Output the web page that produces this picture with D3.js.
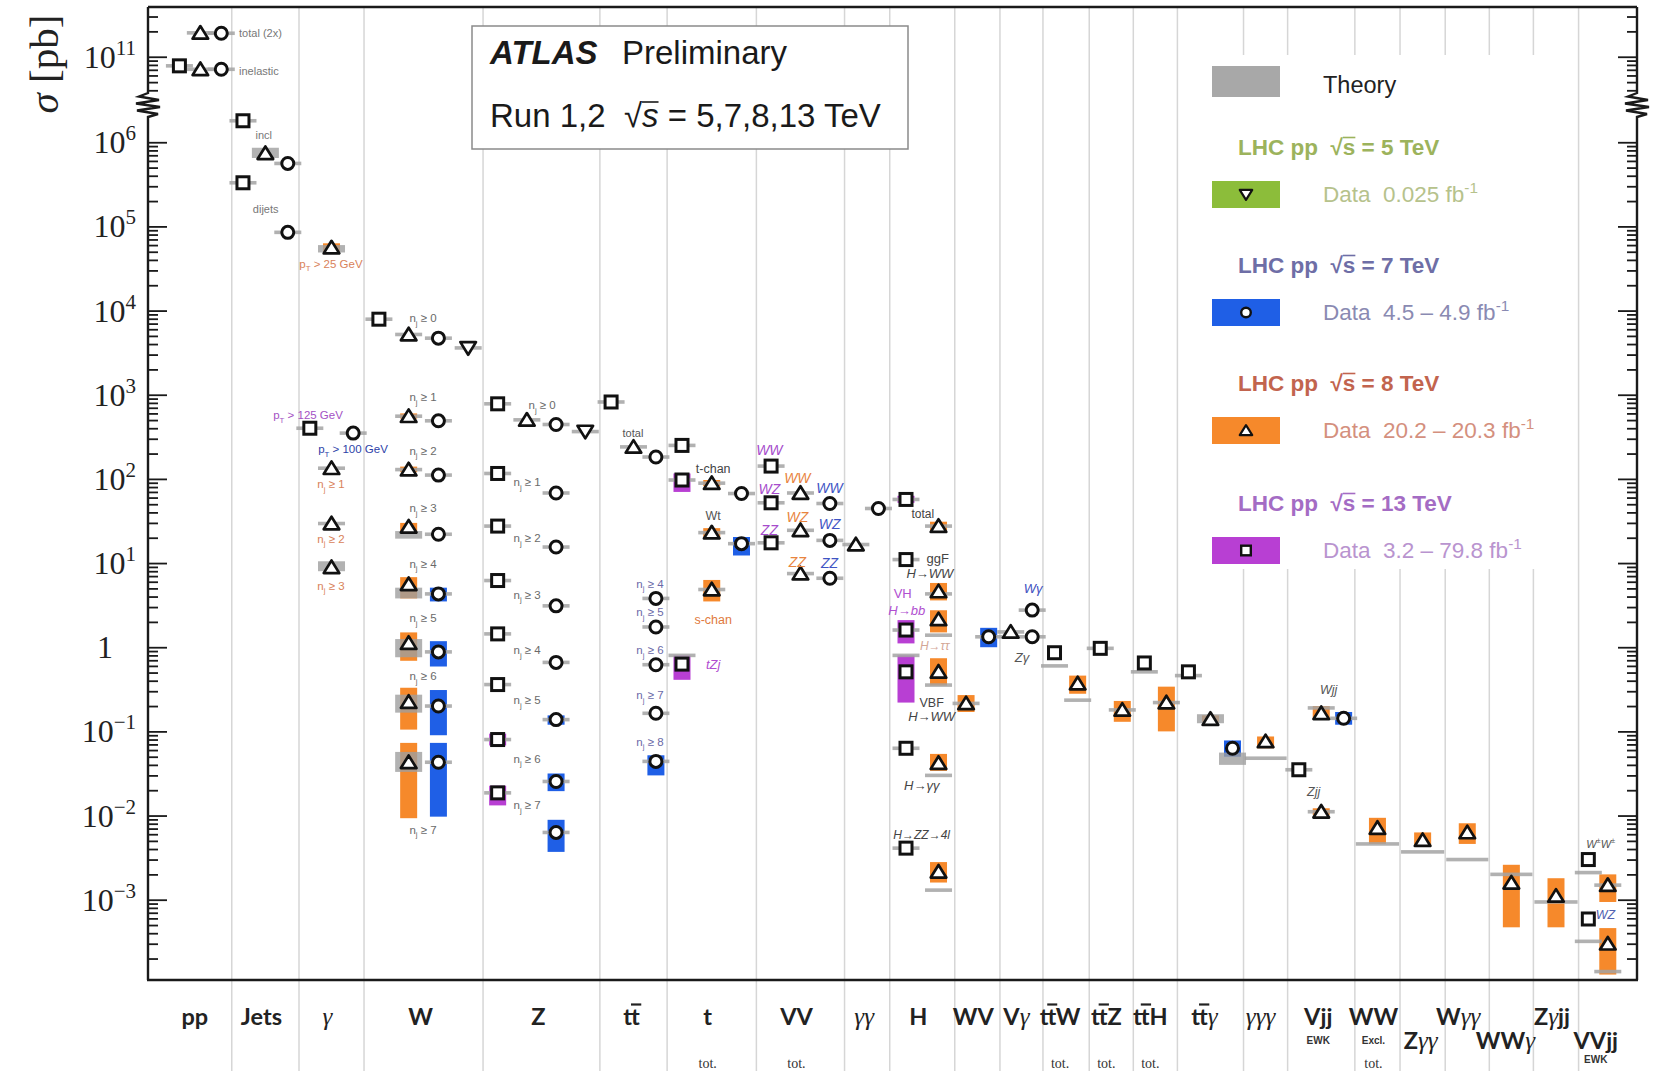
<!DOCTYPE html>
<html>
<head>
<meta charset="utf-8">
<script src="https://cdn.jsdelivr.net/npm/d3@7"></script>
<style>
  body { margin: 0; background: #fff; }
  svg { display: block; }
  text { white-space: pre; }
</style>
</head>
<body>
<svg id="chart" width="1656" height="1071"></svg>
<script>
// ---------------------------------------------------------------------------
// Category columns of the cross-section summary
// ---------------------------------------------------------------------------
const catKeys   = ['pp','jets','gam','W','Z','tt','t','VV','gg','H','WV','Vg','ttW','ttZ','ttH','ttg','ggg','Vjj','WW','Zgg','Wgg','WWg','Zgjj','VVjj'];
const catLabels = ['pp','Jets','γ','W','Z','tt','t','VV','γγ','H','WV','Vγ','ttW','ttZ','ttH','ttγ','γγγ','Vjj','WW','Zγγ','Wγγ','WWγ','Zγjj','VVjj'];
// index of the character carrying an antiparticle bar (-1: none)
const catBarChar = [-1,-1,-1,-1,-1,1,-1,-1,-1,-1,-1,-1,1,1,1,1,-1,-1,-1,-1,-1,-1,-1,-1];
const catLabelRow = [0,0,0,0,0,0,0,0,0,0,0,0,0,0,0,0,0,0,0,1,0,1,0,1];
// column widths along the category axis, and number of sub-columns per column
const catSpan  = [3.8,3.05,2.95,5.4,5.3,3.05,4.05,4.0,2.05,2.95,2.05,1.95,2.1,2.0,2.0,3.0,2.0,3.05,2.05,2.05,2.0,2.0,2.05,2.65];
const catSlots = [4,3,3,4,4,3,3,3,2,2,2,2,2,2,2,3,1,3,1,1,1,1,1,3];
// horizontal nudge of each column label (px)
const catLabelNudge = [5,-4,-4,-3,-3,-2,-4,-4,-3,-4,-4,-5,-6,-5,-5,-6,-5,-3,-4,-2,-9,-6,-4,-12];
const catNotes = [
  {c:'t',    t:'tot.',  r:2, kind:'tot'},
  {c:'VV',   t:'tot.',  r:2, kind:'tot'},
  {c:'ttW',  t:'tot.',  r:2, kind:'tot'},
  {c:'ttZ',  t:'tot.',  r:2, kind:'tot'},
  {c:'ttH',  t:'tot.',  r:2, kind:'tot'},
  {c:'Vjj',  t:'EWK',   r:1, kind:'small'},
  {c:'WW',   t:'Excl.', r:1, kind:'small'},
  {c:'WW',   t:'tot.',  r:2, kind:'tot'},
  {c:'VVjj', t:'EWK',   r:2, kind:'small'}
];

// y axis decade labels (exponents)
const tickExps = [11, 6, 5, 4, 3, 2, 1, 0, -1, -2, -3];

// ---------------------------------------------------------------------------
// Measurements, σ in pb.  s = sub-column, lo/hi = data band, th/thLo/thHi = theory
// ---------------------------------------------------------------------------
const run13 = [   // √s = 13 TeV (squares)
  {c:'pp', s:1, v:7.8e10},
  {c:'jets', s:0, v:1.8e6}, {c:'jets', s:0, v:3.3e5},
  {c:'gam', s:0, v:400},
  {c:'W', s:0, v:7.9e3},
  {c:'Z', s:0, v:780}, {c:'Z', s:0, v:116}, {c:'Z', s:0, v:27.5}, {c:'Z', s:0, v:6.2},
  {c:'Z', s:0, v:1.44}, {c:'Z', s:0, v:0.36},
  {c:'Z', s:0, v:0.080, lo:0.068, hi:0.094}, {c:'Z', s:0, v:0.0186, lo:0.0132, hi:0.0226},
  {c:'tt', s:0, v:820},
  {c:'t', s:0, v:250}, {c:'t', s:0, v:97, lo:70, hi:116}, {c:'t', s:0, v:0.63, lo:0.41, hi:0.80, th:0.80},
  {c:'VV', s:0, v:142}, {c:'VV', s:0, v:52}, {c:'VV', s:0, v:17.4},
  {c:'H', s:0, v:57, lo:52, hi:63}, {c:'H', s:0, v:11},
  {c:'H', s:0, v:1.6, lo:1.11, hi:2.1}, {c:'H', s:0, v:0.51, lo:0.22, hi:0.80, th:0.80},
  {c:'H', s:0, v:0.063}, {c:'H', s:0, v:0.0041},
  {c:'ttW', s:0, v:0.86, th:0.60},
  {c:'ttZ', s:0, v:0.97},
  {c:'ttH', s:0, v:0.65, th:0.51},
  {c:'ttg', s:0, v:0.51, th:0.46},
  {c:'Vjj', s:0, v:0.035},
  {c:'VVjj', s:0, v:0.0030, th:0.0021}, {c:'VVjj', s:0, v:0.00059, th:0.00032}
];

const run8 = [    // √s = 8 TeV (triangles)
  {c:'pp', s:2, v:7.1e10}, {c:'pp', s:2, v:1.92e11},
  {c:'jets', s:1, v:7.4e5, thLo:6.5e5, thHi:8.6e5},
  {c:'gam', s:1, v:5.6e4, lo:5.0e4, hi:6.3e4, thLo:4.9e4, thHi:6.0e4},
  {c:'gam', s:1, v:134}, {c:'gam', s:1, v:29.5}, {c:'gam', s:1, v:8.9, thLo:8.0, thHi:10.5},
  {c:'W', s:1, v:5.2e3}, {c:'W', s:1, v:556, lo:520, hi:600}, {c:'W', s:1, v:129, lo:120, hi:140},
  {c:'W', s:1, v:27, lo:24, hi:30, thLo:19.5, thHi:24},
  {c:'W', s:1, v:5.6, lo:3.8, hi:6.8, thLo:3.8, thHi:5.1},
  {c:'W', s:1, v:1.12, lo:0.69, hi:1.5, thLo:0.76, thHi:1.25},
  {c:'W', s:1, v:0.223, lo:0.105, hi:0.33, thLo:0.167, thHi:0.273},
  {c:'W', s:1, v:0.043, lo:0.0093, hi:0.073, thLo:0.033, thHi:0.057},
  {c:'Z', s:1, v:503},
  {c:'tt', s:1, v:240},
  {c:'t', s:1, v:89, lo:82, hi:97}, {c:'t', s:1, v:23, lo:20.5, hi:26}, {c:'t', s:1, v:4.85, lo:3.5, hi:6.3},
  {c:'VV', s:1, v:68}, {c:'VV', s:1, v:24.5}, {c:'VV', s:1, v:7.5},
  {c:'gg', s:0, v:16.6},
  {c:'H', s:1, v:27.5, lo:23.5, hi:31},
  {c:'H', s:1, v:4.6, lo:3.6, hi:5.8, th:4.3},
  {c:'H', s:1, v:2.14, lo:1.5, hi:2.75, th:1.39},
  {c:'H', s:1, v:0.51, lo:0.35, hi:0.74, th:0.355},
  {c:'H', s:1, v:0.042, lo:0.034, hi:0.054, th:0.030},
  {c:'H', s:1, v:0.00215, lo:0.0016, hi:0.0028, th:0.0013},
  {c:'WV', s:0, v:0.215, lo:0.17, hi:0.27},
  {c:'Vg', s:0, v:1.52},
  {c:'ttW', s:1, v:0.37, lo:0.28, hi:0.46, th:0.235},
  {c:'ttZ', s:1, v:0.18, lo:0.13, hi:0.23},
  {c:'ttH', s:1, v:0.22, lo:0.10, hi:0.34},
  {c:'ttg', s:1, v:0.14, lo:0.13, hi:0.155, thLo:0.125, thHi:0.16},
  {c:'ggg', s:0, v:0.076, lo:0.063, hi:0.087, th:0.048},
  {c:'Vjj', s:1, v:0.164, lo:0.14, hi:0.20, th:0.19}, {c:'Vjj', s:1, v:0.0111, lo:0.0102, hi:0.0122},
  {c:'WW', s:0, v:0.0071, lo:0.0046, hi:0.0094, th:0.0046},
  {c:'Zgg', s:0, v:0.0051, lo:0.0044, hi:0.0063, th:0.0037},
  {c:'Wgg', s:0, v:0.0063, lo:0.0046, hi:0.0081, th:0.0030},
  {c:'WWg', s:0, v:0.00159, lo:0.00047, hi:0.0026, th:0.0020},
  {c:'Zgjj', s:0, v:0.00111, lo:0.00047, hi:0.0018, th:0.00094},
  {c:'VVjj', s:1, v:0.00149, lo:0.00094, hi:0.0020},
  {c:'VVjj', s:1, v:0.00030, lo:0.000129, hi:0.00046, th:0.00014}
];

const run7 = [    // √s = 7 TeV (circles)
  {c:'pp', s:3, v:7.1e10}, {c:'pp', s:3, v:1.9e11},
  {c:'jets', s:2, v:5.6e5}, {c:'jets', s:2, v:8.5e4},
  {c:'gam', s:2, v:350},
  {c:'W', s:2, v:4.7e3}, {c:'W', s:2, v:490}, {c:'W', s:2, v:111}, {c:'W', s:2, v:22},
  {c:'W', s:2, v:4.3, lo:3.5, hi:5.1}, {c:'W', s:2, v:0.88, lo:0.59, hi:1.18},
  {c:'W', s:2, v:0.20, lo:0.09, hi:0.31}, {c:'W', s:2, v:0.043, lo:0.0097, hi:0.073},
  {c:'Z', s:2, v:443}, {c:'Z', s:2, v:68}, {c:'Z', s:2, v:15.5}, {c:'Z', s:2, v:3.1},
  {c:'Z', s:2, v:0.66}, {c:'Z', s:2, v:0.138, lo:0.12, hi:0.155},
  {c:'Z', s:2, v:0.0254, lo:0.0195, hi:0.0316}, {c:'Z', s:2, v:0.0063, lo:0.0037, hi:0.0089},
  {c:'tt', s:2, v:182}, {c:'tt', s:2, v:3.8}, {c:'tt', s:2, v:1.74}, {c:'tt', s:2, v:0.62},
  {c:'tt', s:2, v:0.164}, {c:'tt', s:2, v:0.044, lo:0.030, hi:0.052},
  {c:'t', s:2, v:67}, {c:'t', s:2, v:17, lo:12.3, hi:20.4},
  {c:'VV', s:2, v:51}, {c:'VV', s:2, v:18.6}, {c:'VV', s:2, v:6.6},
  {c:'gg', s:1, v:44.5},
  {c:'WV', s:1, v:1.33, lo:1.0, hi:1.7},
  {c:'Vg', s:1, v:2.76}, {c:'Vg', s:1, v:1.33},
  {c:'ttg', s:2, v:0.063, lo:0.050, hi:0.078, thLo:0.040, thHi:0.056},
  {c:'Vjj', s:2, v:0.143, lo:0.12, hi:0.17}
];

const run5 = [    // √s = 5 TeV (inverted triangles)
  {c:'W', s:3, v:3.6e3},
  {c:'Z', s:3, v:365}
];

// Process annotations: text, column, position inside the column, σ level
const notes = [
  {t:'total (2x)', c:'pp', at:4.13, v:1.9e11, col:'#777', fs:11, a:'start'},
  {t:'inelastic',  c:'pp', at:4.13, v:6.8e10, col:'#777', fs:11, a:'start'},
  {t:'incl',   c:'jets', at:1.45, v:1.2e6, col:'#777', fs:11},
  {t:'dijets', c:'jets', at:1.54, v:1.6e5, col:'#777', fs:11},
  {t:'p_T > 25 GeV',  c:'gam', at:1.45, v:3.6e4, col:'#d9825a', fs:11.5},
  {t:'p_T > 125 GeV', c:'gam', at:0.41, v:570,   col:'#a451c4', fs:11.5},
  {t:'p_T > 100 GeV', c:'gam', at:2.45, v:225,   col:'#2d3fa8', fs:11.5},
  {t:'n_j ≥ 1', c:'gam', at:1.45, v:86,  col:'#d9825a', fs:11.5},
  {t:'n_j ≥ 2', c:'gam', at:1.45, v:19.5, col:'#d9825a', fs:11.5},
  {t:'n_j ≥ 3', c:'gam', at:1.45, v:5.4, col:'#d9825a', fs:11.5},
  {t:'n_j ≥ 0', c:'W', at:2.68, v:8.1e3, col:'#6a6a6a', fs:11.5},
  {t:'n_j ≥ 1', c:'W', at:2.68, v:935,   col:'#6a6a6a', fs:11.5},
  {t:'n_j ≥ 2', c:'W', at:2.68, v:215,   col:'#6a6a6a', fs:11.5},
  {t:'n_j ≥ 3', c:'W', at:2.68, v:45,    col:'#6a6a6a', fs:11.5},
  {t:'n_j ≥ 4', c:'W', at:2.68, v:9.8,   col:'#6a6a6a', fs:11.5},
  {t:'n_j ≥ 5', c:'W', at:2.68, v:2.2,   col:'#6a6a6a', fs:11.5},
  {t:'n_j ≥ 6', c:'W', at:2.68, v:0.45,  col:'#6a6a6a', fs:11.5},
  {t:'n_j ≥ 7', c:'W', at:2.68, v:0.0068, col:'#6a6a6a', fs:11.5},
  {t:'n_j ≥ 0', c:'Z', at:2.68, v:750,   col:'#6a6a6a', fs:11.5},
  {t:'n_j ≥ 1', c:'Z', at:2.0, v:91,     col:'#6a6a6a', fs:11.5},
  {t:'n_j ≥ 2', c:'Z', at:2.0, v:19.6,   col:'#6a6a6a', fs:11.5},
  {t:'n_j ≥ 3', c:'Z', at:2.0, v:4.2,    col:'#6a6a6a', fs:11.5},
  {t:'n_j ≥ 4', c:'Z', at:2.0, v:0.92,   col:'#6a6a6a', fs:11.5},
  {t:'n_j ≥ 5', c:'Z', at:2.0, v:0.234,  col:'#6a6a6a', fs:11.5},
  {t:'n_j ≥ 6', c:'Z', at:2.0, v:0.047,  col:'#6a6a6a', fs:11.5},
  {t:'n_j ≥ 7', c:'Z', at:2.0, v:0.0132, col:'#6a6a6a', fs:11.5},
  {t:'total', c:'tt', at:1.5, v:350, col:'#555', fs:11},
  {t:'n_j ≥ 4', c:'tt', at:2.27, v:5.7,   col:'#6a6aa8', fs:11.5},
  {t:'n_j ≥ 5', c:'tt', at:2.27, v:2.6,   col:'#6a6aa8', fs:11.5},
  {t:'n_j ≥ 6', c:'tt', at:2.27, v:0.92,  col:'#6a6aa8', fs:11.5},
  {t:'n_j ≥ 7', c:'tt', at:2.27, v:0.27,  col:'#6a6aa8', fs:11.5},
  {t:'n_j ≥ 8', c:'tt', at:2.27, v:0.075, col:'#6a6aa8', fs:11.5},
  {t:'t-chan', c:'t', at:2.09, v:134,  col:'#444', fs:12.5},
  {t:'Wt',     c:'t', at:2.09, v:37,   col:'#555', fs:12.5},
  {t:'s-chan', c:'t', at:2.09, v:2.14, col:'#e07a40', fs:12.5},
  {t:'tZj',    c:'t', at:2.09, v:0.62, col:'#b04cd0', fs:13, it:true},
  {t:'WW', c:'VV', at:0.59, v:218,  col:'#a64ccc', fs:14, it:true},
  {t:'WZ', c:'VV', at:0.59, v:75.5, col:'#a64ccc', fs:14, it:true},
  {t:'ZZ', c:'VV', at:0.59, v:24.6, col:'#a64ccc', fs:14, it:true},
  {t:'WW', c:'VV', at:1.86, v:102,  col:'#e8843e', fs:14, it:true},
  {t:'WZ', c:'VV', at:1.86, v:35,   col:'#e8843e', fs:14, it:true},
  {t:'ZZ', c:'VV', at:1.86, v:10.4, col:'#e8843e', fs:14, it:true},
  {t:'WW', c:'VV', at:3.32, v:77,   col:'#3f55c4', fs:14, it:true},
  {t:'WZ', c:'VV', at:3.32, v:28.7, col:'#3f55c4', fs:14, it:true},
  {t:'ZZ', c:'VV', at:3.32, v:9.9,  col:'#3f55c4', fs:14, it:true},
  {t:'total', c:'H', at:1.5,  v:39,   col:'#444', fs:12},
  {t:'ggF',   c:'H', at:2.18, v:11.4, col:'#444', fs:13},
  {t:'H→WW',  c:'H', at:1.82, v:7.6,  col:'#444', fs:13, it:true},
  {t:'VH',    c:'H', at:0.59, v:4.4,  col:'#b050d0', fs:13},
  {t:'H→bb',  c:'H', at:0.77, v:2.75, col:'#b050d0', fs:13, it:true},
  {t:'H→ττ',  c:'H', at:2.04, v:1.03, col:'#d3a696', fs:12, it:true},
  {t:'VBF',   c:'H', at:1.9,  v:0.217, col:'#444', fs:12.5},
  {t:'H→WW',  c:'H', at:1.9,  v:0.152, col:'#444', fs:13, it:true},
  {t:'H→γγ',  c:'H', at:1.45, v:0.023, col:'#444', fs:13, it:true},
  {t:'H→ZZ→4l', c:'H', at:1.45, v:0.0059, col:'#444', fs:12, it:true},
  {t:'Wγ', c:'Vg', at:1.5, v:5.0,  col:'#4050c0', fs:13, it:true},
  {t:'Zγ', c:'Vg', at:1.0, v:0.76, col:'#555', fs:13, it:true},
  {t:'Wjj', c:'Vjj', at:1.86, v:0.31,  col:'#555', fs:12.5, it:true},
  {t:'Zjj', c:'Vjj', at:1.18, v:0.019, col:'#555', fs:12.5, it:true},
  {t:'W^±W^±', c:'VVjj', at:1.0, v:0.0046, col:'#555', fs:11, it:true},
  {t:'WZ', c:'VVjj', at:1.22, v:0.00066, col:'#5060b0', fs:12.5, it:true}
];

// Legend entries
const legendRuns = [
  {head:'LHC pp  √s = 5 TeV',  data:'Data  0.025 fb^{-1}',       sym:'tridown', fill:'#8cbd3a', headCol:'#9cb35c', dataCol:'#b6c28c'},
  {head:'LHC pp  √s = 7 TeV',  data:'Data  4.5 – 4.9 fb^{-1}',   sym:'circle',  fill:'#1f5fe6', headCol:'#6e6ea6', dataCol:'#8a8ab2'},
  {head:'LHC pp  √s = 8 TeV',  data:'Data  20.2 – 20.3 fb^{-1}', sym:'tri',     fill:'#f6892b', headCol:'#c2644e', dataCol:'#d4907e'},
  {head:'LHC pp  √s = 13 TeV', data:'Data  3.2 – 79.8 fb^{-1}',  sym:'square',  fill:'#b83fd3', headCol:'#a46cc4', dataCol:'#b994cf'}
];

// ---------------------------------------------------------------------------
// Layout and scales
// ---------------------------------------------------------------------------
const svg = d3.select('#chart');
const W = 1656, H = 1071;
const L = 148, R = 1637, T = 7, B = 980;
const breakTop = 93, breakBot = 117;

const catIndex = new Map(catKeys.map((k, i) => [k, i]));
const catStart = [0];
catSpan.forEach(w => catStart.push(catStart[catStart.length - 1] + w));
const x = d3.scaleLinear().domain([0, d3.sum(catSpan)]).range([L, R]);

const yLow  = d3.scaleLog().domain([Math.pow(10, -3.954), Math.pow(10, 6.3)]).range([B, breakBot]);
const yHigh = d3.scaleLog().domain([Math.pow(10, 10.57), Math.pow(10, 11.59)]).range([breakTop, T]);
const y = v => (v > 1e9 ? yHigh(v) : yLow(v));

const slotX = (c, s) => {
  const i = catIndex.get(c);
  return x(catStart[i] + (s + 0.5) * catSpan[i] / catSlots[i]);
};
const posX = (c, at) => x(catStart[catIndex.get(c)] + at);

const runColor = {13:'#b83fd3', 8:'#f6892b', 7:'#1f5fe6', 5:'#8cbd3a'};
const runSym   = {13:'square', 8:'tri', 7:'circle', 5:'tridown'};

svg.append('rect').attr('width', W).attr('height', H).attr('fill', '#fff');

// column separators (continue through the label area)
const sep = svg.append('g');
catStart.slice(1, -1).forEach(u => {
  sep.append('line').attr('x1', x(u)).attr('x2', x(u)).attr('y1', T).attr('y2', H)
    .attr('stroke', '#d6d6d6').attr('stroke-width', 1.5);
});

// white panels for the title box and the legend
svg.append('rect').attr('x', 1200).attr('y', 55).attr('width', 365).attr('height', 514).attr('fill', '#fff');
svg.append('rect').attr('x', 472).attr('y', 26).attr('width', 436).attr('height', 123)
  .attr('fill', '#fff').attr('stroke', '#8a8a8a').attr('stroke-width', 1.5);

// ---------------------------------------------------------------------------
// Markers
// ---------------------------------------------------------------------------
function drawMarker(g, sym, cx, cy, k = 1) {
  const st = {stroke:'#111', 'stroke-width': 3 * k, fill:'#fff'};
  let el;
  if (sym === 'square') {
    el = g.append('rect').attr('x', cx - 6 * k).attr('y', cy - 6 * k).attr('width', 12 * k).attr('height', 12 * k);
  } else if (sym === 'circle') {
    el = g.append('circle').attr('cx', cx).attr('cy', cy).attr('r', 6 * k);
  } else if (sym === 'tri') {
    el = g.append('path').attr('d', `M${cx},${cy - 6.8 * k} L${cx + 7.8 * k},${cy + 5.8 * k} L${cx - 7.8 * k},${cy + 5.8 * k} Z`)
      .attr('stroke-linejoin', 'round');
    st['stroke-width'] = 2.7 * k;
  } else {
    el = g.append('path').attr('d', `M${cx},${cy + 6.8 * k} L${cx + 7.8 * k},${cy - 5.8 * k} L${cx - 7.8 * k},${cy - 5.8 * k} Z`)
      .attr('stroke-linejoin', 'round');
    st['stroke-width'] = 2.7 * k;
  }
  Object.entries(st).forEach(([a, v]) => el.attr(a, v));
}

const allRuns = [[13, run13], [8, run8], [7, run7], [5, run5]];
const gBands = svg.append('g');
const gTheory = svg.append('g');
const gMarks = svg.append('g');

allRuns.forEach(([e, rows]) => {
  rows.forEach(d => {
    const cx = slotX(d.c, d.s);
    const i = catIndex.get(d.c);
    // data uncertainty band
    if (d.lo !== undefined) {
      gBands.append('rect').attr('x', cx - 8.5).attr('width', 17)
        .attr('y', y(d.hi)).attr('height', Math.max(2, y(d.lo) - y(d.hi)))
        .attr('fill', runColor[e]);
    }
    // theory prediction
    const single = catSlots[i] === 1;
    const tx0 = single ? x(catStart[i]) + 1 : cx - 13.5;
    const tw  = single ? x(catStart[i + 1]) - x(catStart[i]) - 2 : 27;
    if (d.thLo !== undefined) {
      gTheory.append('rect').attr('x', tx0).attr('width', tw)
        .attr('y', y(d.thHi)).attr('height', y(d.thLo) - y(d.thHi))
        .attr('fill', '#9f9f9f').attr('opacity', 0.8);
    } else {
      const tv = d.th !== undefined ? d.th : d.v;
      gTheory.append('rect').attr('x', tx0).attr('width', tw)
        .attr('y', y(tv) - 1.8).attr('height', 3.6)
        .attr('fill', '#a3a3a3').attr('opacity', 0.85);
    }
    drawMarker(gMarks, runSym[e], cx, y(d.v));
  });
});

// ---------------------------------------------------------------------------
// Text helpers
// ---------------------------------------------------------------------------
// _x subscript, ^x / ^{..} superscript
function rich(text, s, size) {
  let i = 0, pend = 0;
  const put = (str, dy, fs) => {
    const ts = text.append('tspan').text(str);
    if (dy + pend !== 0) ts.attr('dy', dy + pend);
    if (fs) ts.attr('font-size', fs);
    return ts;
  };
  while (i < s.length) {
    const ch = s[i];
    if ((ch === '_' || ch === '^') && i + 1 < s.length) {
      let body, n;
      if (s[i + 1] === '{') { const j = s.indexOf('}', i); body = s.slice(i + 2, j); n = j + 1; }
      else { body = s[i + 1]; n = i + 2; }
      const off = ch === '_' ? size * 0.3 : -size * 0.42;
      put(body, off, size * 0.68);
      pend = -off;
      i = n;
    } else {
      let j = i;
      while (j < s.length && s[j] !== '_' && s[j] !== '^') j++;
      put(s.slice(i, j), 0);
      pend = 0;
      i = j;
    }
  }
}
// a bar over one character of a text (radical sign, antiparticle)
function overbar(parent, text, ci, rise, sw, padL = 0, padR = 0) {
  const node = text.node();
  const box = node.getExtentOfChar(ci);
  const yb = node.getStartPositionOfChar(ci).y;
  parent.append('line').attr('x1', box.x - padL).attr('x2', box.x + box.width + padR)
    .attr('y1', yb - rise).attr('y2', yb - rise)
    .attr('stroke', text.attr('fill') || '#222').attr('stroke-width', sw);
}

// annotations
const gNotes = svg.append('g').attr('font-family', 'Liberation Sans, Arial, sans-serif');
notes.forEach(n => {
  const t = gNotes.append('text')
    .attr('x', posX(n.c, n.at)).attr('y', y(n.v) + n.fs * 0.35)
    .attr('text-anchor', n.a || 'middle')
    .attr('font-size', n.fs).attr('fill', n.col)
    .attr('font-style', n.it ? 'italic' : 'normal');
  rich(t, n.t, n.fs);
});

// ---------------------------------------------------------------------------
// Axes with the scale break
// ---------------------------------------------------------------------------
const lowMinor = [], lowMajor = [], highMinor = [], highMajor = [];
d3.range(-4, 7).forEach(dd => d3.range(1, 10).forEach(k => {
  const v = k * Math.pow(10, dd);
  if (v >= yLow.domain()[0] && v <= yLow.domain()[1]) (k === 1 ? lowMajor : lowMinor).push(v);
}));
d3.range(10, 12).forEach(dd => d3.range(1, 10).forEach(k => {
  const v = k * Math.pow(10, dd);
  if (v >= yHigh.domain()[0] && v <= yHigh.domain()[1]) (k === 1 ? highMajor : highMinor).push(v);
}));

function tickSet(g, side, scale, vals, len) {
  const ax = (side === 'left' ? d3.axisLeft(scale) : d3.axisRight(scale))
    .tickValues(vals).tickSize(-len).tickFormat('');
  g.call(ax);
  g.select('.domain').remove();
  g.selectAll('.tick text').remove();
  g.selectAll('.tick line').attr('stroke', '#1a1a1a').attr('stroke-width', 1.8);
}
[['left', L], ['right', R]].forEach(([side, px]) => {
  const g = svg.append('g').attr('transform', `translate(${px},0)`);
  tickSet(g.append('g'), side, yLow, lowMinor, 10);
  tickSet(g.append('g'), side, yLow, lowMajor, 19);
  tickSet(g.append('g'), side, yHigh, highMinor, 10);
  tickSet(g.append('g'), side, yHigh, highMajor, 19);
});

// frame
const zig = px => `M${px},${T} V${breakTop} L${px - 9},96.5 L${px + 11},100 L${px - 12},103.5 L${px + 12},107 L${px - 11},110.5 L${px + 10},114 L${px},${breakBot} V${B}`;
const frame = svg.append('g').attr('fill', 'none').attr('stroke', '#1a1a1a').attr('stroke-width', 2.4);
frame.append('path').attr('d', zig(L));
frame.append('path').attr('d', zig(R));
frame.append('line').attr('x1', L).attr('x2', R).attr('y1', T).attr('y2', T);
frame.append('line').attr('x1', L - 1).attr('x2', R + 1).attr('y1', B).attr('y2', B);

// decade labels
const gTick = svg.append('g').attr('font-family', 'Liberation Serif, Times New Roman, serif').attr('fill', '#222');
tickExps.forEach(e => {
  const yy = e >= 10 ? yHigh(Math.pow(10, e)) : yLow(Math.pow(10, e));
  if (e === 0) {
    gTick.append('text').attr('x', 113).attr('y', yy + 11).attr('text-anchor', 'end')
      .attr('font-size', 32).text('1');
    return;
  }
  const t = gTick.append('text').attr('x', 136).attr('y', yy + 11).attr('text-anchor', 'end').attr('font-size', 32);
  t.append('tspan').text('10');
  t.append('tspan').attr('dy', -13).attr('font-size', 21).text(String(e).replace('-', '\u2212'));
});

// y title
const yt = svg.append('text').attr('transform', 'translate(58,64) rotate(-90)')
  .attr('text-anchor', 'middle').attr('font-family', 'Liberation Serif, Times New Roman, serif')
  .attr('font-size', 41).attr('fill', '#222');
yt.append('tspan').attr('font-style', 'italic').text('σ');
yt.append('tspan').text(' [pb]');

// ---------------------------------------------------------------------------
// Category labels (γ set as a math symbol; bar over the anti-top)
// ---------------------------------------------------------------------------
const rowY = [1025, 1049, 1068];
const gCat = svg.append('g');
catLabels.forEach((lab, i) => {
  const cx = x((catStart[i] + catStart[i + 1]) / 2) + catLabelNudge[i];
  const yb = rowY[catLabelRow[i]];
  const t = gCat.append('text').attr('x', cx).attr('y', yb).attr('text-anchor', 'middle')
    .attr('font-family', 'Lato, Carlito, sans-serif').attr('font-weight', 700)
    .attr('font-size', 23.5).attr('fill', '#222');
  lab.split(/(γ+)/).filter(p => p.length).forEach(part => {
    const ts = t.append('tspan').text(part);
    if (part[0] === 'γ') {
      ts.attr('font-family', 'Liberation Serif, serif').attr('font-style', 'italic')
        .attr('font-weight', 400).attr('font-size', 25);
    }
  });
  if (catBarChar[i] >= 0) overbar(gCat, t, catBarChar[i], 20.5, 2.2, 0.5, 1.5);
});
catNotes.forEach(n => {
  const i = catIndex.get(n.c);
  const cx = x((catStart[i] + catStart[i + 1]) / 2) + catLabelNudge[i];
  const t = svg.append('text').attr('x', cx).attr('y', rowY[n.r] - (n.kind === 'small' ? 5 : 0))
    .attr('text-anchor', 'middle').attr('fill', '#333').text(n.t);
  if (n.kind === 'tot') t.attr('font-family', 'Liberation Serif, serif').attr('font-size', 14);
  else t.attr('font-family', 'Liberation Sans, sans-serif').attr('font-weight', 700).attr('font-size', 10);
});

// ---------------------------------------------------------------------------
// Title box
// ---------------------------------------------------------------------------
const gTitle = svg.append('g').attr('font-family', 'Liberation Sans, Arial, sans-serif').attr('fill', '#1a1a1a');
gTitle.append('text').attr('x', 490).attr('y', 64).attr('font-size', 33).attr('font-weight', 700)
  .attr('font-style', 'italic').text('ATLAS');
gTitle.append('text').attr('x', 622).attr('y', 64).attr('font-size', 33).text('Preliminary');
const runPrefix = 'Run 1,2  √';
const run = gTitle.append('text').attr('x', 490).attr('y', 127).attr('font-size', 33).attr('fill', '#1a1a1a');
run.append('tspan').text(runPrefix);
run.append('tspan').attr('font-style', 'italic').text('s');
run.append('tspan').text(' = 5,7,8,13 TeV');
overbar(gTitle, run, runPrefix.length, 25, 1.6);

// ---------------------------------------------------------------------------
// Legend
// ---------------------------------------------------------------------------
const gLeg = svg.append('g').attr('font-family', 'Liberation Sans, Arial, sans-serif');
gLeg.append('rect').attr('x', 1212).attr('y', 66).attr('width', 68).attr('height', 31).attr('fill', '#a8a8a8');
gLeg.append('text').attr('x', 1323).attr('y', 93).attr('font-size', 23.5).attr('fill', '#222').text('Theory');
const legTop = [155, 273, 391, 511];
legendRuns.forEach((r, i) => {
  const y0 = legTop[i];
  const h = gLeg.append('text').attr('x', 1238).attr('y', y0).attr('font-size', 22.5).attr('font-weight', 700)
    .attr('fill', r.headCol).text(r.head);
  overbar(gLeg, h, r.head.indexOf('√s') + 1, 17.5, 1.6);
  gLeg.append('rect').attr('x', 1212).attr('y', y0 + 26).attr('width', 68).attr('height', 27).attr('fill', r.fill);
  drawMarker(gLeg, r.sym, 1246, y0 + 39.5, 0.8);
  const t = gLeg.append('text').attr('x', 1323).attr('y', y0 + 47).attr('font-size', 22.5).attr('fill', r.dataCol);
  rich(t, r.data, 22.5);
});
</script>
</body>
</html>
